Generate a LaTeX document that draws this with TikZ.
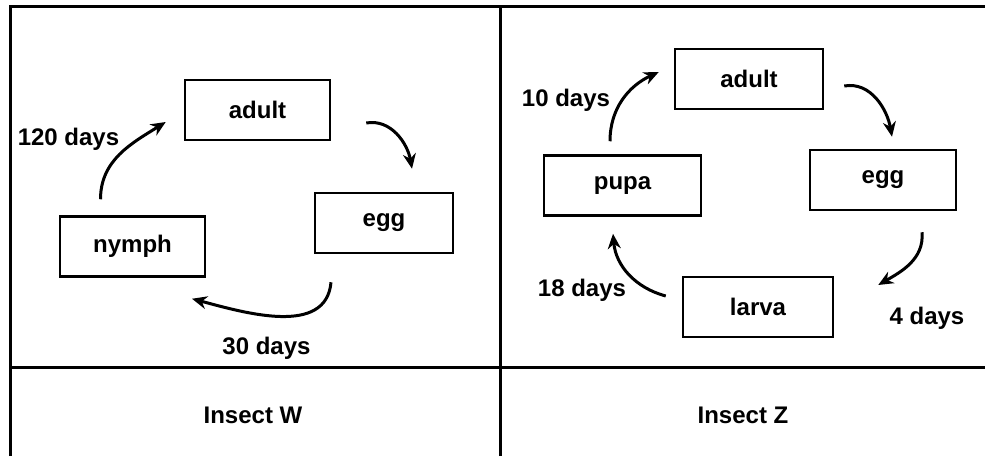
\documentclass[tikz,border=0pt]{standalone}
\usepackage{fontspec}
\setmainfont{Liberation Sans}
\usetikzlibrary{arrows.meta}

\begin{document}
\begin{tikzpicture}[x=1pt,y=1pt,
    stage/.style={draw,line width=2.5pt,minimum width=145pt,minimum height=60pt,
      font=\fontsize{24}{28}\selectfont\bfseries},
    days/.style={font=\fontsize{24}{28}\selectfont\bfseries},
    cyc/.style={line width=3pt,-{Stealth[length=15pt,width=13pt]}}]
    \useasboundingbox (0,0) rectangle (985,456);
    % table frame
    \draw[line width=3pt] (10,0) -- (10,449) -- (985,449);
    \draw[line width=3pt] (500,0) -- (500,449);
    \draw[line width=3pt] (10,89) -- (985,89);
    % insect W
    \node[stage] (adultW) at (257.5,346) {adult};
    \node[stage,minimum width=138pt] (eggW) at (384,233) {egg};
    \node[stage] (nymphW) at (132.5,209.5) {nymph};
    \node[days] (tW1) at (68.5,317) {120 days};
    \node[days] (tW2) at (266.5,108) {30 days};
    \node[days] (insW) at (253,41) {Insect W};
    \draw[cyc] ([shift={(-32,16)}]nymphW.north) to[out=90,in=212] ([shift={(-18,-12)}]adultW.west);
    \draw[cyc] ([shift={(35,-13)}]adultW.east) to[out=10,in=100] ([shift={(28,23)}]eggW.north);
    \draw[cyc] ([shift={(-53,-28)}]eggW.south) to[out=-95,in=-15] ([shift={(59.5,-21)}]nymphW.south);
    % insect Z
    \node[stage,minimum width=148pt] (adultZ) at (749,377) {adult};
    \node[stage,minimum width=146pt] (eggZ) at (883,276) {egg};
    \node[stage,minimum width=157pt] (pupaZ) at (622.5,270.5) {pupa};
    \node[stage,minimum width=150pt] (larvaZ) at (758,149) {larva};
    \node[days] (tZ1) at (566,356) {10 days};
    \node[days] (tZ2) at (582,166) {18 days};
    \node[days] (tZ3) at (927,138) {4 days};
    \node[days] (insZ) at (743,41) {Insect Z};
    \draw[cyc] ([shift={(-12.5,13)}]pupaZ.north) to[out=90,in=205] ([shift={(-15,7)}]adultZ.west);
    \draw[cyc] ([shift={(20,-7)}]adultZ.east) to[out=10,in=100] ([shift={(9,12)}]eggZ.north);
    \draw[cyc] ([shift={(39,-21)}]eggZ.south) to[out=-85,in=30] ([shift={(44,22)}]larvaZ.east);
    \draw[cyc] ([shift={(-16,11)}]larvaZ.west) to[out=165,in=-85] ([shift={(-9.5,-17)}]pupaZ.south);
\end{tikzpicture}
\end{document}
